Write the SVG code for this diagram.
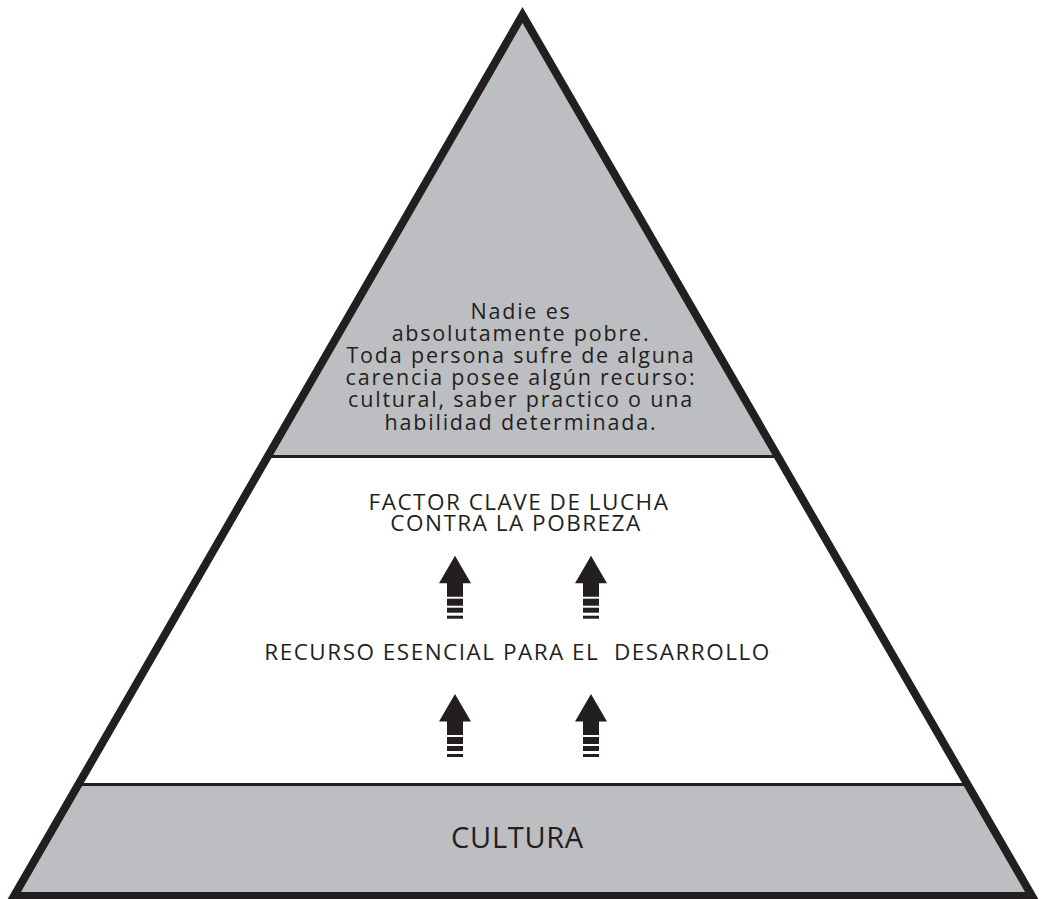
<svg xmlns="http://www.w3.org/2000/svg" width="1042" height="899" viewBox="0 0 1042 899">
  <defs>
    <style>
      .band { fill: #bdbec1; stroke: none; }
      .edge { fill: none; stroke: #231f20; stroke-width: 8; stroke-linejoin: miter; stroke-miterlimit: 10; }
      .divider { stroke: #231f20; stroke-width: 3; fill: none; }
      .txt { font-family: "Open Sans", "Noto Sans", sans-serif; fill: #231f20; text-anchor: middle; white-space: pre; }
      .top { font-size: 21.5px; letter-spacing: 1.8px; }
      .mid { font-size: 22.5px; letter-spacing: 1.5px; }
      .base { font-size: 29px; letter-spacing: 0.7px; }
      .arrow { fill: #231f20; }
    </style>
    <g id="upArrow">
      <polygon class="arrow" points="0,0 16,27.5 8,27.5 8,41 -8,41 -8,27.5 -16,27.5"/>
      <rect class="arrow" x="-8" y="43" width="16" height="7"/>
      <rect class="arrow" x="-8" y="52" width="16" height="5"/>
      <rect class="arrow" x="-8" y="60" width="16" height="3"/>
    </g>
  </defs>
  <rect x="0" y="0" width="1042" height="899" fill="#ffffff"/>

  <g id="tier-top">
    <polygon class="band" points="522.5,15 267.7,456.5 777.8,456.5"/>
    <text class="txt top" x="521" y="318.5">Nadie es</text>
    <text class="txt top" x="521" y="340.7">absolutamente pobre.</text>
    <text class="txt top" x="521" y="362.9">Toda persona sufre de alguna</text>
    <text class="txt top" x="521" y="385.1">carencia posee algún recurso:</text>
    <text class="txt top" x="521" y="407.3">cultural, saber practico o una</text>
    <text class="txt top" x="521" y="429.5">habilidad determinada.</text>
  </g>

  <g id="tier-middle">
    <text class="txt mid" x="519" y="509.5">FACTOR CLAVE DE LUCHA</text>
    <text class="txt mid" x="516" y="530.5">CONTRA LA POBREZA</text>
    <text class="txt mid" x="517.5" y="659.5" xml:space="preserve">RECURSO ESENCIAL PARA EL  DESARROLLO</text>
  </g>

  <g id="tier-base">
    <polygon class="band" points="78.4,784.5 967.5,784.5 1032,896 14,896"/>
    <text class="txt base" x="517.5" y="848.3">CULTURA</text>
  </g>

  <g id="pyramid-outline">
    <polygon class="edge" points="522.5,15 1032,896 14,896"/>
    <line class="divider" x1="267.7" y1="456.5" x2="777.8" y2="456.5"/>
    <line class="divider" x1="78.4" y1="784.5" x2="967.5" y2="784.5"/>
  </g>

  <g id="connectors">
    <use href="#upArrow" x="455" y="555.7"/>
    <use href="#upArrow" x="591" y="555.7"/>
    <use href="#upArrow" x="455" y="694"/>
    <use href="#upArrow" x="591" y="694"/>
  </g>
</svg>
